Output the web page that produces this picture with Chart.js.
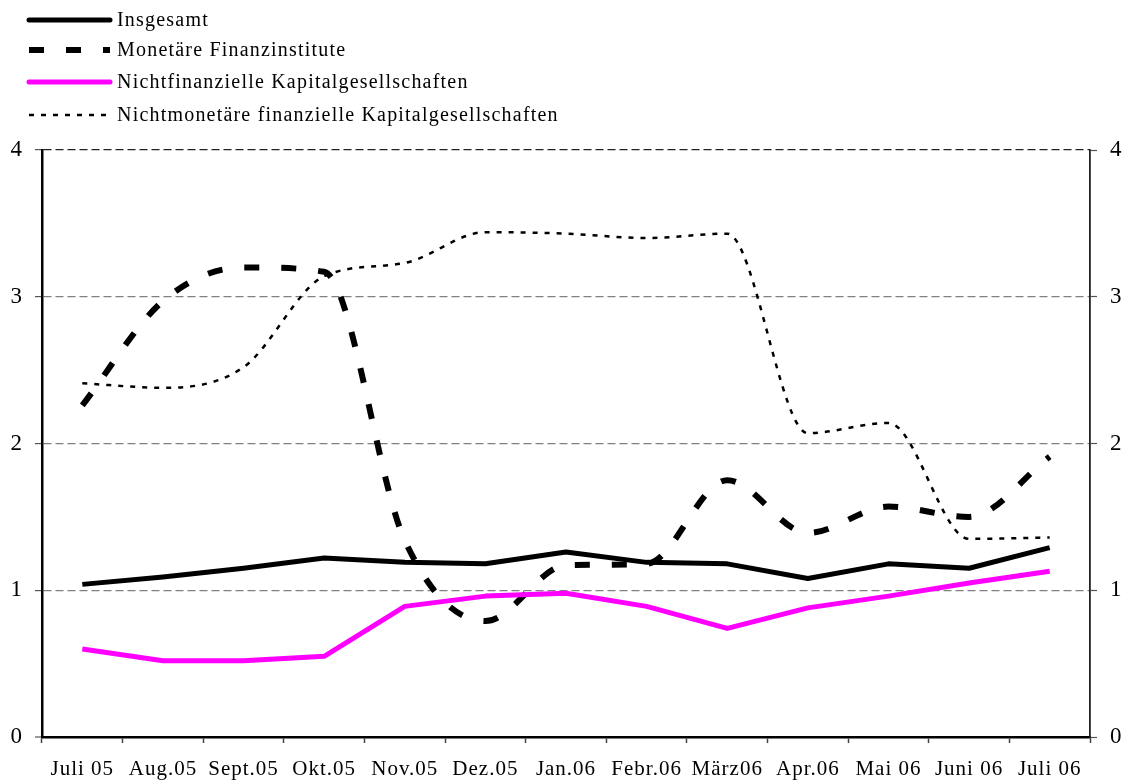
<!DOCTYPE html>
<html>
<head>
<meta charset="utf-8">
<script src="https://cdn.jsdelivr.net/npm/chart.js@4/dist/chart.umd.min.js"></script>
<style>
  html, body { margin: 0; padding: 0; background: #fff; }
  #wrap { position: relative; width: 1130px; height: 782px; }
</style>
</head>
<body>
<div id="wrap"><canvas id="c" width="1130" height="782"></canvas></div>
<script>
const categories = ['Juli 05','Aug.05','Sept.05','Okt.05','Nov.05','Dez.05','Jan.06','Febr.06','März06','Apr.06','Mai 06','Juni 06','Juli 06'];
const insgesamt = [1.04, 1.09, 1.15, 1.22, 1.19, 1.18, 1.26, 1.19, 1.18, 1.08, 1.18, 1.15, 1.29];
const monetaereFinanzinstitute = [2.26, 2.97, 3.20, 3.17, 1.34, 0.79, 1.17, 1.18, 1.75, 1.39, 1.57, 1.50, 1.91];
const nichtfinanzielleKG = [0.60, 0.52, 0.52, 0.55, 0.89, 0.96, 0.98, 0.89, 0.74, 0.88, 0.96, 1.05, 1.13];
const nichtmonetaereFinKG = [2.41, 2.38, 2.52, 3.14, 3.23, 3.44, 3.43, 3.40, 3.43, 2.07, 2.14, 1.35, 1.36];
const yTicks = [0, 1, 2, 3, 4];

const FONT = 'Liberation Serif, "Times New Roman", serif';

const legendPlugin = {
  id: 'customLegend',
  beforeUpdate(chart) { chart.ctx.letterSpacing = '1px'; },
  beforeDraw(chart) { chart.ctx.letterSpacing = '1px'; },
  afterDraw(chart) {
    const ctx = chart.ctx;
    const rows = [20, 50, 82, 115];
    chart.data.datasets.forEach((ds, i) => {
      const y = rows[i];
      ctx.save();
      ctx.strokeStyle = ds.borderColor;
      ctx.lineWidth = ds.borderWidth;
      ctx.setLineDash(ds.borderDash || []);
      ctx.lineCap = ds.borderDash && ds.borderDash.length ? 'butt' : 'round';
      ctx.beginPath();
      ctx.moveTo(29, y);
      ctx.lineTo(110, y);
      ctx.stroke();
      ctx.setLineDash([]);
      ctx.fillStyle = '#000';
      ctx.font = '20px ' + FONT;
      ctx.letterSpacing = '1.2px';
      ctx.textBaseline = 'middle';
      ctx.textAlign = 'left';
      ctx.fillText(ds.label, 117, y + 1);
      ctx.restore();
    });
  }
};

new Chart(document.getElementById('c'), {
  type: 'line',
  data: {
    labels: categories,
    datasets: [
      { label: 'Insgesamt', data: insgesamt, borderColor: '#000000', borderWidth: 5, tension: 0, order: 4 },
      { label: 'Monetäre Finanzinstitute', data: monetaereFinanzinstitute, borderColor: '#000000', borderWidth: 6, borderDash: [15, 22], borderCapStyle: 'butt', cubicInterpolationMode: 'monotone', order: 3 },
      { label: 'Nichtfinanzielle Kapitalgesellschaften', data: nichtfinanzielleKG, borderColor: '#ff00ff', borderWidth: 5, tension: 0, order: 2 },
      { label: 'Nichtmonetäre finanzielle Kapitalgesellschaften', data: nichtmonetaereFinKG, borderColor: '#000000', borderWidth: 2.5, borderDash: [5, 7], borderCapStyle: 'butt', cubicInterpolationMode: 'monotone', order: 1 }
    ]
  },
  options: {
    responsive: false,
    animation: false,
    devicePixelRatio: 1,
    layout: { padding: { top: 150, left: 0, right: 0, bottom: 0 } },
    elements: { point: { radius: 0, hoverRadius: 0 }, line: { borderJoinStyle: 'round' } },
    plugins: { legend: { display: false }, tooltip: { enabled: false }, title: { display: false } },
    scales: {
      x: {
        type: 'category',
        offset: true,
        border: { display: true, color: '#000', width: 2.5 },
        grid: { offset: true, drawOnChartArea: false, drawTicks: true, tickLength: 6, tickColor: '#444', tickWidth: 1.5 },
        ticks: { color: '#000', font: { family: FONT, size: 21 }, padding: 14, maxRotation: 0, autoSkip: false },
        afterFit(scale) { scale.height = 45; }
      },
      y: {
        position: 'left',
        min: 0, max: 4,
        afterBuildTicks(scale) { scale.ticks = yTicks.map(v => ({ value: v })); },
        border: { display: true, color: '#000', width: 2.5, dash: [8, 4] },
        grid: {
          drawOnChartArea: true,
          color: ctx => (ctx.tick && ctx.tick.value === 4 ? '#222' : '#808080'),
          lineWidth: ctx => (ctx.tick && ctx.tick.value === 0 ? 0 : 1.2),
          tickLength: 7, tickColor: '#555', tickWidth: 1.2, tickBorderDash: [10, 0]
        },
        ticks: { color: '#000', font: { family: FONT, size: 23 }, padding: 12, stepSize: 1 },
        afterFit(scale) { scale.width = 42; }
      },
      y2: {
        position: 'right',
        min: 0, max: 4,
        afterBuildTicks(scale) { scale.ticks = yTicks.map(v => ({ value: v })); },
        border: { display: true, color: '#222', width: 1.8 },
        grid: { drawOnChartArea: false, tickLength: 7, tickColor: '#555', tickWidth: 1.2 },
        ticks: { color: '#000', font: { family: FONT, size: 23 }, padding: 13, stepSize: 1 },
        afterFit(scale) { scale.width = 40; }
      }
    }
  },
  plugins: [legendPlugin]
});
</script>
</body>
</html>
